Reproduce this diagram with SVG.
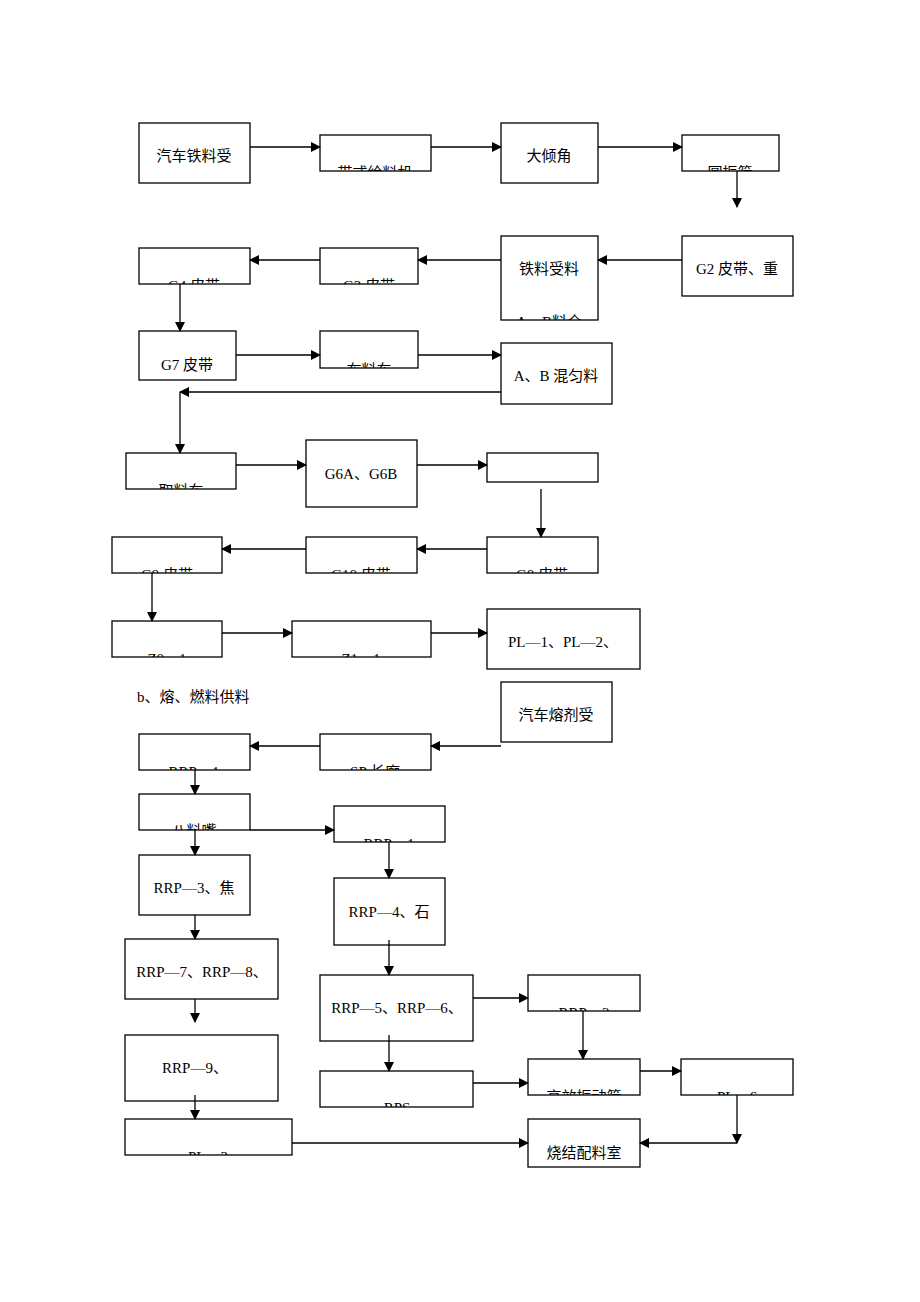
<svg xmlns="http://www.w3.org/2000/svg" width="920" height="1302" viewBox="0 0 920 1302">
<style>
rect.b{fill:#fff;stroke:#000;stroke-width:1.3}
text{font-family:"Liberation Serif","Noto Sans CJK SC",serif;font-size:15px;text-anchor:middle;fill:#000}
.c line,.c polyline{stroke:#000;stroke-width:1.3;fill:none}
</style>
<defs>
<marker id="a" markerWidth="10" markerHeight="10" refX="9" refY="5" orient="auto" markerUnits="userSpaceOnUse"><path d="M0,0L10,5L0,10z" fill="#000"/></marker>
<clipPath id="k2"><rect x="320" y="135" width="111" height="36"/></clipPath>
<clipPath id="k4"><rect x="682" y="135" width="97" height="36"/></clipPath>
<clipPath id="kf"><rect x="501" y="236" width="97" height="84"/></clipPath>
<clipPath id="kg3"><rect x="320" y="248" width="98" height="36"/></clipPath>
<clipPath id="kg4"><rect x="139" y="248" width="111" height="36"/></clipPath>
<clipPath id="kbl"><rect x="320" y="331" width="98" height="37"/></clipPath>
<clipPath id="kql"><rect x="126" y="453" width="110" height="36"/></clipPath>
<clipPath id="kg8"><rect x="487" y="537" width="111" height="36"/></clipPath>
<clipPath id="kg10"><rect x="306" y="537" width="111" height="36"/></clipPath>
<clipPath id="kg9"><rect x="112" y="537" width="110" height="36"/></clipPath>
<clipPath id="kz0"><rect x="112" y="621" width="110" height="36"/></clipPath>
<clipPath id="kz1"><rect x="292" y="621" width="139" height="36"/></clipPath>
<clipPath id="kr1"><rect x="139" y="734" width="111" height="36"/></clipPath>
<clipPath id="ksp"><rect x="320" y="734" width="111" height="36"/></clipPath>
<clipPath id="kbz"><rect x="139" y="794" width="111" height="36"/></clipPath>
<clipPath id="kr1b"><rect x="334" y="806" width="111" height="36"/></clipPath>
<clipPath id="kr2"><rect x="528" y="975" width="112" height="36"/></clipPath>
<clipPath id="krps"><rect x="320" y="1071" width="153" height="36"/></clipPath>
<clipPath id="kgx"><rect x="528" y="1059" width="112" height="36"/></clipPath>
<clipPath id="kp6"><rect x="681" y="1059" width="112" height="36"/></clipPath>
<clipPath id="kp3"><rect x="125" y="1119" width="167" height="36"/></clipPath>
</defs>

<g id="n1"><rect class="b" x="139" y="123" width="111" height="60"/><text x="194" y="161">汽车铁料受</text></g>
<g id="n2"><rect class="b" x="320" y="135" width="111" height="36"/><text x="375" y="178" clip-path="url(#k2)">带式给料机</text></g>
<g id="n3"><rect class="b" x="501" y="123" width="97" height="60"/><text x="549" y="161">大倾角</text></g>
<g id="n4"><rect class="b" x="682" y="135" width="97" height="36"/><text x="730" y="178" clip-path="url(#k4)">圆振筛</text></g>
<g id="n5"><rect class="b" x="682" y="236" width="111" height="60"/><text x="737" y="274">G2 皮带、重</text></g>
<g id="n6"><rect class="b" x="501" y="236" width="97" height="84"/><text x="549" y="274">铁料受料</text><text x="549" y="327" clip-path="url(#kf)">A、B料仓</text></g>
<g id="n7"><rect class="b" x="320" y="248" width="98" height="36"/><text x="369" y="291" clip-path="url(#kg3)">G3 皮带</text></g>
<g id="n8"><rect class="b" x="139" y="248" width="111" height="36"/><text x="194" y="291" clip-path="url(#kg4)">G4 皮带</text></g>
<g id="n9"><rect class="b" x="139" y="331" width="97" height="49"/><text x="187" y="370">G7 皮带</text></g>
<g id="n10"><rect class="b" x="320" y="331" width="98" height="37"/><text x="369" y="375" clip-path="url(#kbl)">布料车</text></g>
<g id="n11"><rect class="b" x="501" y="343" width="111" height="61"/><text x="556" y="381">A、B 混匀料</text></g>
<g id="n12"><rect class="b" x="126" y="453" width="110" height="36"/><text x="181" y="496" clip-path="url(#kql)">取料车</text></g>
<g id="n13"><rect class="b" x="306" y="440" width="111" height="67"/><text x="361" y="479">G6A、G6B</text></g>
<g id="n14"><rect class="b" x="487" y="453" width="111" height="29"/></g>
<g id="n15"><rect class="b" x="487" y="537" width="111" height="36"/><text x="542" y="580" clip-path="url(#kg8)">G8 皮带</text></g>
<g id="n16"><rect class="b" x="306" y="537" width="111" height="36"/><text x="361" y="580" clip-path="url(#kg10)">G10 皮带</text></g>
<g id="n17"><rect class="b" x="112" y="537" width="110" height="36"/><text x="167" y="580" clip-path="url(#kg9)">G9 皮带</text></g>
<g id="n18"><rect class="b" x="112" y="621" width="110" height="36"/><text x="167" y="664" clip-path="url(#kz0)">Z0—1</text></g>
<g id="n19"><rect class="b" x="292" y="621" width="139" height="36"/><text x="361" y="664" clip-path="url(#kz1)">Z1—1</text></g>
<g id="n20"><rect class="b" x="487" y="609" width="153" height="60"/><text x="563" y="647">PL—1、PL—2、</text></g>
<text x="137" y="702" style="text-anchor:start">b、熔、燃料供料</text>
<g id="n21"><rect class="b" x="501" y="682" width="111" height="60"/><text x="556" y="720">汽车熔剂受</text></g>
<g id="n22"><rect class="b" x="320" y="734" width="111" height="36"/><text x="375" y="777" clip-path="url(#ksp)">SP 长廊</text></g>
<g id="n23"><rect class="b" x="139" y="734" width="111" height="36"/><text x="194" y="777" clip-path="url(#kr1)">RRP—1</text></g>
<g id="n24"><rect class="b" x="139" y="794" width="111" height="36"/><text x="194" y="836" clip-path="url(#kbz)">八料嘴</text></g>
<g id="n25"><rect class="b" x="334" y="806" width="111" height="36"/><text x="389" y="849" clip-path="url(#kr1b)">RRP—1</text></g>
<g id="n26"><rect class="b" x="139" y="855" width="111" height="60"/><text x="194" y="893">RRP—3、焦</text></g>
<g id="n27"><rect class="b" x="334" y="878" width="111" height="67"/><text x="389" y="917">RRP—4、石</text></g>
<g id="n28"><rect class="b" x="125" y="939" width="153" height="60"/><text x="202" y="977">RRP—7、RRP—8、</text></g>
<g id="n29"><rect class="b" x="320" y="975" width="153" height="66"/><text x="397" y="1013">RRP—5、RRP—6、</text></g>
<g id="n30"><rect class="b" x="528" y="975" width="112" height="36"/><text x="584" y="1018" clip-path="url(#kr2)">RRP—2</text></g>
<g id="n31"><rect class="b" x="125" y="1035" width="153" height="66"/><text x="195" y="1073">RRP—9、</text></g>
<g id="n32"><rect class="b" x="320" y="1071" width="153" height="36"/><text x="397" y="1113" clip-path="url(#krps)">RPS</text></g>
<g id="n33"><rect class="b" x="528" y="1059" width="112" height="36"/><text x="584" y="1102" clip-path="url(#kgx)">高效振动筛</text></g>
<g id="n34"><rect class="b" x="681" y="1059" width="112" height="36"/><text x="737" y="1102" clip-path="url(#kp6)">PL—6</text></g>
<g id="n35"><rect class="b" x="125" y="1119" width="167" height="36"/><text x="208" y="1162" clip-path="url(#kp3)">PL—3</text></g>
<g id="n36"><rect class="b" x="528" y="1119" width="112" height="48"/><text x="584" y="1158">烧结配料室</text></g>

<g class="c" id="connectors">
<line x1="250" y1="147" x2="320" y2="147" marker-end="url(#a)"/>
<line x1="431" y1="147" x2="501" y2="147" marker-end="url(#a)"/>
<line x1="598" y1="147" x2="682" y2="147" marker-end="url(#a)"/>
<line x1="737" y1="171" x2="737" y2="207" marker-end="url(#a)"/>
<line x1="682" y1="260" x2="598" y2="260" marker-end="url(#a)"/>
<line x1="501" y1="260" x2="418" y2="260" marker-end="url(#a)"/>
<line x1="320" y1="260" x2="250" y2="260" marker-end="url(#a)"/>
<line x1="180" y1="284" x2="180" y2="331" marker-end="url(#a)"/>
<line x1="236" y1="355" x2="320" y2="355" marker-end="url(#a)"/>
<line x1="418" y1="355" x2="501" y2="355" marker-end="url(#a)"/>
<line x1="501" y1="392" x2="180" y2="392" marker-end="url(#a)"/>
<line x1="180" y1="392" x2="180" y2="453" marker-end="url(#a)"/>
<line x1="236" y1="465" x2="306" y2="465" marker-end="url(#a)"/>
<line x1="417" y1="465" x2="487" y2="465" marker-end="url(#a)"/>
<line x1="541" y1="489" x2="541" y2="537" marker-end="url(#a)"/>
<line x1="487" y1="549" x2="417" y2="549" marker-end="url(#a)"/>
<line x1="306" y1="549" x2="222" y2="549" marker-end="url(#a)"/>
<line x1="152" y1="573" x2="152" y2="621" marker-end="url(#a)"/>
<line x1="222" y1="633" x2="292" y2="633" marker-end="url(#a)"/>
<line x1="431" y1="633" x2="487" y2="633" marker-end="url(#a)"/>
<line x1="501" y1="746" x2="431" y2="746" marker-end="url(#a)"/>
<line x1="320" y1="746" x2="250" y2="746" marker-end="url(#a)"/>
<line x1="195" y1="770" x2="195" y2="794" marker-end="url(#a)"/>
<line x1="250" y1="830" x2="334" y2="830" marker-end="url(#a)"/>
<line x1="195" y1="830" x2="195" y2="855" marker-end="url(#a)"/>
<line x1="389" y1="842" x2="389" y2="878" marker-end="url(#a)"/>
<line x1="195" y1="915" x2="195" y2="939" marker-end="url(#a)"/>
<line x1="389" y1="940" x2="389" y2="975" marker-end="url(#a)"/>
<line x1="473" y1="998" x2="528" y2="998" marker-end="url(#a)"/>
<line x1="583" y1="1011" x2="583" y2="1059" marker-end="url(#a)"/>
<line x1="195" y1="999" x2="195" y2="1022" marker-end="url(#a)"/>
<line x1="389" y1="1035" x2="389" y2="1071" marker-end="url(#a)"/>
<line x1="473" y1="1083" x2="528" y2="1083" marker-end="url(#a)"/>
<line x1="640" y1="1071" x2="681" y2="1071" marker-end="url(#a)"/>
<line x1="195" y1="1095" x2="195" y2="1119" marker-end="url(#a)"/>
<line x1="292" y1="1143" x2="528" y2="1143" marker-end="url(#a)"/>
<line x1="737" y1="1095" x2="737" y2="1143" marker-end="url(#a)"/>
<line x1="737" y1="1143" x2="640" y2="1143" marker-end="url(#a)"/>
</g>
</svg>
